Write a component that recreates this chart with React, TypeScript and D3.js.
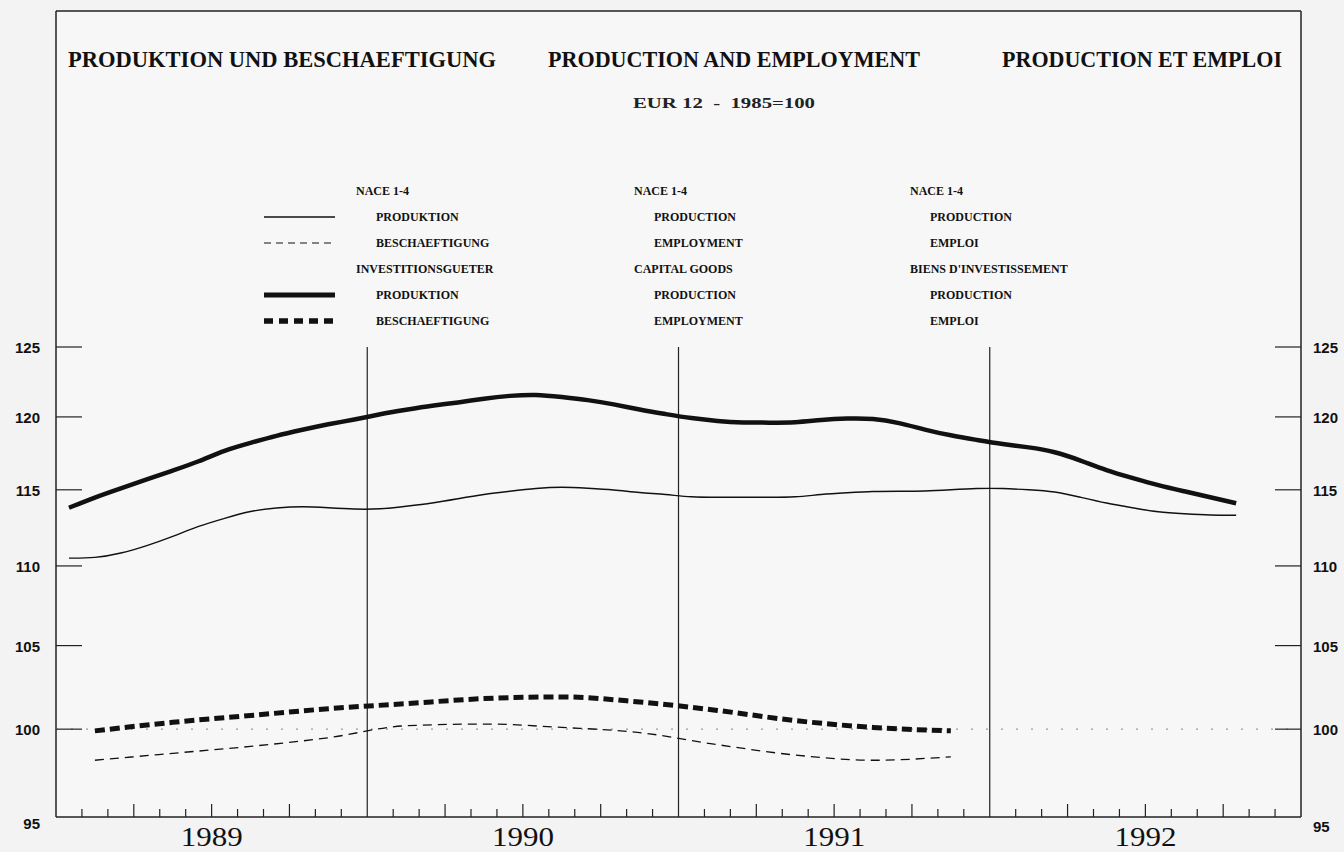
import React from 'react';
import * as d3 from 'd3';

// ---- data ----
const years = ['1989', '1990', '1991', '1992'];
const yTicks = [95, 100, 105, 110, 115, 120, 125];

// monthly, Jan 1989 .. Oct 1992
const prodNace = [
  110.5, 110.5, 110.8, 111.3, 111.9, 112.6, 113.1, 113.6, 113.8, 113.9, 113.8, 113.7,
  113.7, 113.9, 114.1, 114.4, 114.7, 114.9, 115.1, 115.2, 115.1, 115.0, 114.8, 114.7,
  114.5, 114.5, 114.5, 114.5, 114.5, 114.7, 114.8, 114.9, 114.9, 114.9, 115.0, 115.1,
  115.1, 115.0, 114.9, 114.5, 114.1, 113.8, 113.5, 113.4, 113.3, 113.3,
];
const prodInv = [
  113.8, 114.5, 115.1, 115.7, 116.3, 116.9, 117.7, 118.2, 118.7, 119.1, 119.5, 119.8,
  120.2, 120.5, 120.8, 121.0, 121.3, 121.5, 121.6, 121.4, 121.2, 120.9, 120.5, 120.2,
  119.9, 119.7, 119.6, 119.6, 119.6, 119.8, 119.9, 119.9, 119.6, 119.1, 118.7, 118.4,
  118.1, 117.9, 117.6, 117.0, 116.3, 115.8, 115.3, 114.9, 114.5, 114.1,
];
// quarterly, Q1 1989 .. Q4 1991
const empNace = [98.2, 98.6, 99.0, 99.5, 100.2, 100.3, 100.1, 99.8, 99.1, 98.5, 98.2, 98.4];
const empInv = [99.9, 100.4, 100.8, 101.2, 101.5, 101.8, 101.9, 101.6, 101.1, 100.5, 100.1, 99.9];

const titles = ['PRODUKTION UND BESCHAEFTIGUNG', 'PRODUCTION AND EMPLOYMENT', 'PRODUCTION ET EMPLOI'];
const subtitle = 'EUR 12  -  1985=100';
const legendDE = ['NACE 1-4', 'PRODUKTION', 'BESCHAEFTIGUNG', 'INVESTITIONSGUETER', 'PRODUKTION', 'BESCHAEFTIGUNG'];
const legendEN = ['NACE 1-4', 'PRODUCTION', 'EMPLOYMENT', 'CAPITAL GOODS', 'PRODUCTION', 'EMPLOYMENT'];
const legendFR = ['NACE 1-4', 'PRODUCTION', 'EMPLOI', "BIENS D'INVESTISSEMENT", 'PRODUCTION', 'EMPLOI'];

const SERIF = "'Liberation Serif', 'DejaVu Serif', serif";
const SANS = "'Liberation Sans', Arial, sans-serif";

export default function App() {
  const left = 56, right = 1301, top = 11, bottom = 817;
  const x = d3.scaleLinear().domain([0, 48]).range([left, right]);
  const y = d3.scaleLog().domain([95, 125]).range([bottom, 347]);

  const monthLine = d3.line<number>()
    .x((_, i) => x(i + 0.5))
    .y((d) => y(d))
    .curve(d3.curveBasis);
  const quarterLine = d3.line<number>()
    .x((_, i) => x(i * 3 + 1.5))
    .y((d) => y(d))
    .curve(d3.curveMonotoneX);

  const months = d3.range(1, 48).filter((m) => m % 12 !== 0);
  const yearBounds = [12, 24, 36];

  const legendCols = [
    { labels: legendDE, x: 356 },
    { labels: legendEN, x: 634 },
    { labels: legendFR, x: 910 },
  ];
  const rowY = (r: number) => 195 + r * 26;
  const indent = (r: number) => (r === 0 || r === 3 ? 0 : 20);

  const samples = [
    { row: 1, w: 1.3, dash: undefined as string | undefined },
    { row: 2, w: 1.2, dash: '7 5' },
    { row: 4, w: 5, dash: undefined },
    { row: 5, w: 5.5, dash: '9 6' },
  ];

  return (
    <svg
      width={1344}
      height={852}
      style={{ position: 'absolute', left: 0, top: 0, background: '#f3f3f3' }}
    >
      <rect x={0} y={0} width={1344} height={852} fill="#f3f3f3" />
      <rect x={left} y={top} width={right - left} height={bottom - top} fill="#f7f7f7" />

      {/* frame */}
      <line x1={left} x2={right} y1={top} y2={top} stroke="#222" strokeWidth={1.5} />
      <line x1={left} x2={left} y1={top} y2={bottom} stroke="#222" strokeWidth={1.5} />
      <line x1={right} x2={right} y1={top} y2={bottom} stroke="#222" strokeWidth={1.5} />
      <line x1={left} x2={right} y1={bottom} y2={bottom} stroke="#222" strokeWidth={1.5} />

      {/* titles */}
      {titles.map((t, i) => {
        const xs = [68, 548, 1002];
        const ws = [428, 372, 280];
        return (
          <text key={t} x={xs[i]} y={67} fontFamily={SERIF} fontWeight="bold" fontSize={23}
            textLength={ws[i]} lengthAdjust="spacingAndGlyphs" fill="#111">{t}</text>
        );
      })}
      <text x={633} y={108} fontFamily={SERIF} fontWeight="bold" fontSize={14}
        textLength={182} lengthAdjust="spacingAndGlyphs" fill="#222" style={{ whiteSpace: 'pre' }}>{subtitle}</text>

      {/* legend */}
      {legendCols.map((c, ci) =>
        c.labels.map((lab, r) => (
          <text key={ci + '-' + r} x={c.x + indent(r)} y={rowY(r)} fontFamily={SERIF}
            fontWeight="bold" fontSize={12} fill="#111">{lab}</text>
        ))
      )}
      {samples.map((s) => (
        <line key={s.row} x1={264} x2={335} y1={rowY(s.row) - 4} y2={rowY(s.row) - 4}
          stroke="#111" strokeWidth={s.w} strokeDasharray={s.dash} />
      ))}

      {/* reference line at 100 */}
      <line x1={left} x2={right} y1={y(100)} y2={y(100)} stroke="#9a9a9a" strokeWidth={1.4}
        strokeDasharray="2 13" />

      {/* year dividers */}
      {yearBounds.map((m) => (
        <line key={m} x1={x(m)} x2={x(m)} y1={y(125)} y2={bottom} stroke="#222" strokeWidth={1.2} />
      ))}

      {/* month ticks */}
      {months.map((m) => (
        <line key={m} x1={x(m)} x2={x(m)} y1={bottom} y2={bottom - (m % 3 === 0 ? 13 : 8)}
          stroke="#222" strokeWidth={1.2} />
      ))}

      {/* y ticks and labels */}
      {yTicks.map((t) => (
        <g key={t}>
          {t !== 95 && (
            <>
              <line x1={left} x2={left + 26} y1={y(t)} y2={y(t)} stroke="#222" strokeWidth={1.2} />
              <line x1={right - 26} x2={right} y1={y(t)} y2={y(t)} stroke="#222" strokeWidth={1.2} />
            </>
          )}
          <text x={40} y={y(t) + (t === 95 ? 12 : 6)} textAnchor="end" fontFamily={SANS}
            fontWeight="bold" fontSize={15} fill="#111">{t}</text>
          <text x={1313} y={y(t) + (t === 95 ? 15 : 6)} fontFamily={SANS}
            fontWeight="bold" fontSize={15} fill="#111">{t}</text>
        </g>
      ))}

      {/* year labels */}
      {years.map((yr, i) => (
        <text key={yr} x={x(i * 12 + 6)} y={846} textAnchor="middle" fontFamily={SERIF}
          fontSize={27} textLength={62} lengthAdjust="spacingAndGlyphs" fill="#111">{yr}</text>
      ))}

      {/* series */}
      <path d={monthLine(prodNace) || ''} fill="none" stroke="#111" strokeWidth={1.4} />
      <path d={monthLine(prodInv) || ''} fill="none" stroke="#111" strokeWidth={4.5} />
      <path d={quarterLine(empNace) || ''} fill="none" stroke="#111" strokeWidth={1.3}
        strokeDasharray="9 6" />
      <path d={quarterLine(empInv) || ''} fill="none" stroke="#111" strokeWidth={5}
        strokeDasharray="10 5" />
    </svg>
  );
}
